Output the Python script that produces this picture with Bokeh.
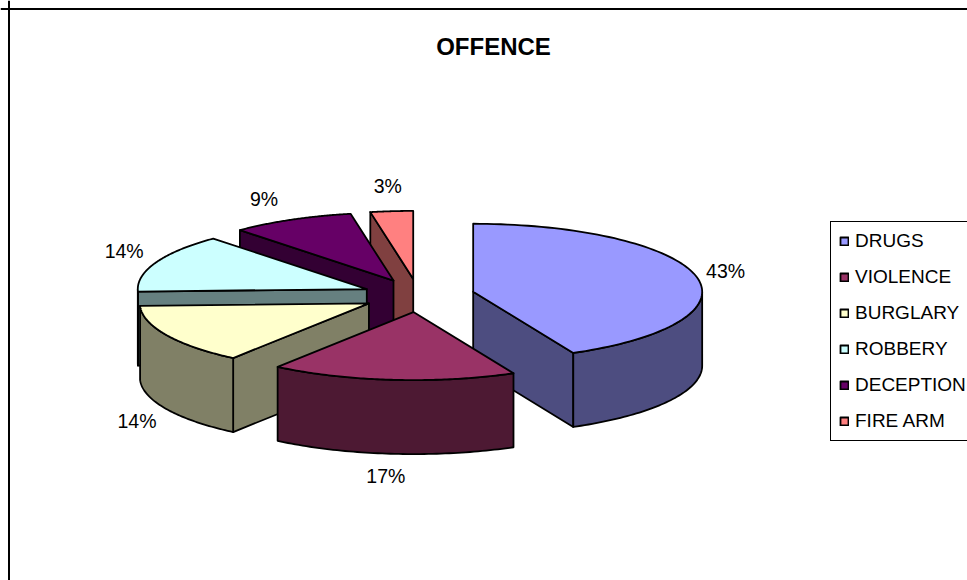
import numpy as np
from bokeh.plotting import figure
from bokeh.models import Range1d, Span, Legend, LegendItem
from bokeh.embed import file_html
from bokeh.resources import INLINE
from bokeh.core.properties import value

# --- data -------------------------------------------------------------
categories = ["DRUGS", "VIOLENCE", "BURGLARY", "ROBBERY", "DECEPTION", "FIRE ARM"]
shares = [42.8, 17.3, 14.3, 13.9, 8.7, 3.0]
title_text = "OFFENCE"

# --- style ------------------------------------------------------------
top_colors = ["#9999FF", "#993366", "#FFFFCC", "#CCFFFF", "#660066", "#FF8080"]
side_colors = ["#4D4D80", "#4D1933", "#808066", "#668080", "#330033", "#804040"]
FONT = "Liberation Sans"
CX, CY = 418.0, 295.0      # pie centre before the slices are pulled out
RX, RY = 229.0, 68.0       # ellipse radii of the top face
DEPTH = 74.0               # height of the pie
EXPLODE = 0.245
LABEL_RX, LABEL_RY = 30.0, 24.0
LABEL_NUDGE = [(0, 0), (-4, -2), (-3, 1), (-4, -2), (-14, 1), (-1, -1)]
DRAW_ORDER = [5, 4, 3, 2, 0, 1]

p = figure(width=967, height=580, output_backend="svg", toolbar_location=None,
           x_range=Range1d(0, 967), y_range=Range1d(580, 0), min_border=0)
p.axis.visible = False
p.grid.visible = False
p.outline_line_color = None
p.background_fill_color = "white"
p.border_fill_color = "white"

share_arr = np.array(shares, dtype=float)
edges = np.concatenate([[0.0], np.cumsum(share_arr)]) / share_arr.sum() * 360.0


def pt(cx, cy, deg):
    r = np.radians(deg)
    return cx + RX * np.sin(r), cy - RY * np.cos(r)


def poly(xs, ys, color):
    return p.patch(list(xs), list(ys), fill_color=color, line_color="black",
                   line_width=1.8, line_join="round")


tops = {}
centres = []
for i in range(len(categories)):
    mid = np.radians((edges[i] + edges[i + 1]) / 2)
    centres.append((CX + EXPLODE * RX * np.sin(mid), CY - EXPLODE * RY * np.cos(mid)))

for i in DRAW_ORDER:
    t0, t1 = edges[i], edges[i + 1]
    cx, cy = centres[i]
    # radial wall that faces the viewer
    if 180 < t0 < 360:
        ex, ey = pt(cx, cy, t0)
        poly([cx, ex, ex, cx], [cy, ey, ey + DEPTH, cy + DEPTH], side_colors[i])
    if 0 < t1 < 180:
        ex, ey = pt(cx, cy, t1)
        poly([cx, ex, ex, cx], [cy, ey, ey + DEPTH, cy + DEPTH], side_colors[i])
    # outer wall
    a0, a1 = max(t0, 90.0), min(t1, 270.0)
    if a1 > a0:
        ts = np.linspace(a0, a1, 60)
        ax, ay = pt(cx, cy, ts)
        poly(np.concatenate([ax, ax[::-1]]), np.concatenate([ay, ay[::-1] + DEPTH]), side_colors[i])
    # top face
    ts = np.linspace(t0, t1, 90)
    ax, ay = pt(cx, cy, ts)
    tops[i] = poly(np.concatenate([[cx], ax]), np.concatenate([[cy], ay]), top_colors[i])

# percentage labels
lx, ly, lt = [], [], []
for i, s in enumerate(shares):
    mid = (edges[i] + edges[i + 1]) / 2
    cx, cy = centres[i]
    x, y = pt(cx, cy, mid)
    if 90 < mid < 270:
        y += DEPTH
    r = np.radians(mid)
    lx.append(x + LABEL_RX * np.sin(r) + LABEL_NUDGE[i][0])
    ly.append(y - LABEL_RY * np.cos(r) + LABEL_NUDGE[i][1])
    lt.append(f"{round(s)}%")
p.text(lx, ly, text=lt, text_font=value(FONT), text_font_size="19.5px", text_color="black",
       text_align="center", text_baseline="middle")

# title
p.text([493], [46], text=[title_text], text_font=value(FONT), text_font_size="24px",
       text_font_style="bold", text_color="black", text_align="center", text_baseline="middle")

# frame of the chart area (runs off the window at right and bottom)
p.add_layout(Span(location=8.5, dimension="width", line_color="black", line_width=2))
p.add_layout(Span(location=8.5, dimension="height", line_color="black", line_width=2))

# legend
legend = Legend(
    items=[LegendItem(label=c, renderers=[tops[i]]) for i, c in enumerate(categories)],
    location=(830, 139),
    orientation="vertical",
    label_text_font=FONT, label_text_font_size="19px", label_text_color="black",
    glyph_width=10, glyph_height=10, label_standoff=6,
    label_height=22, spacing=14, padding=8, margin=0,
    border_line_color="black", border_line_width=1.5, border_line_alpha=1.0,
    background_fill_color="white", background_fill_alpha=1.0,
)
p.add_layout(legend)

open("out.html", "w").write(file_html(p, INLINE))
